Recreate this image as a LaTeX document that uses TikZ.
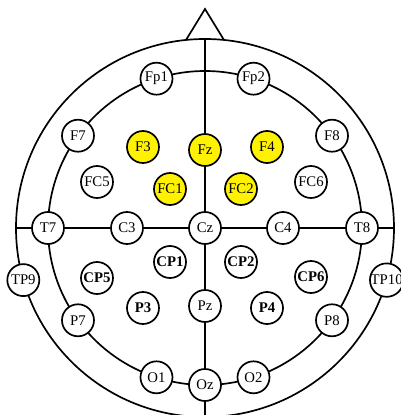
\documentclass[tikz,border=0pt]{standalone}
\usepackage{fontspec}
\setmainfont{Liberation Serif}
\usepackage{tikz}

\begin{document}
\begin{tikzpicture}[x=0.025cm,y=0.025cm,line width=1.2pt,
    elec/.style={circle,draw,fill=white,inner sep=0pt,minimum size=0.8cm,font=\fontsize{10.5}{12}\selectfont},
    elecon/.style={elec,fill=yellow},
    elecb/.style={elec,font=\fontsize{10.5}{12}\selectfont\bfseries}]
  \useasboundingbox (-205,-187) rectangle (196,228);
  % head, nose and ring
  \draw (0,0) circle (189);
  \draw (0,0) circle (157);
  \draw (-19,188) -- (0,219) -- (19,188);
  \coordinate (nose) at (0,189);
  \coordinate (back) at (0,-190);
  \coordinate (left) at (-189,0);
  \coordinate (right) at (189,0);
  % electrodes on the rings
  \node[elec] (Fp1) at (108:157) {Fp1};
  \node[elec] (Fp2) at (72:157) {Fp2};
  \node[elec] (F7) at (144:157) {F7};
  \node[elec] (F8) at (36:157) {F8};
  \node[elec] (T7) at (180:157) {T7};
  \node[elec] (T8) at (0:157) {T8};
  \node[elec] (P7) at (216:157) {P7};
  \node[elec] (P8) at (-36:157) {P8};
  \node[elec] (O1) at (252:157) {O1};
  \node[elec] (O2) at (-72:157) {O2};
  \node[elec] (Oz) at (270:157) {Oz};
  \node[elec] (TP9) at (196:189) {TP9};
  \node[elec] (TP10) at (-16:189) {TP10};
  % inner electrodes
  \node[elecon] (F3) at (-62,81) {F3};
  \node[elecon] (Fz) at (0,78) {Fz};
  \node[elecon] (F4) at (62,81) {F4};
  \node[elec] (FC5) at (-108,46) {FC5};
  \node[elecon] (FC1) at (-35,39) {FC1};
  \node[elecon] (FC2) at (36,39) {FC2};
  \node[elec] (FC6) at (106,46) {FC6};
  \node[elec] (C3) at (-78,0) {C3};
  \node[elec] (Cz) at (0,0) {Cz};
  \node[elec] (C4) at (78,0) {C4};
  \node[elecb] (CP1) at (-35,-34) {CP1};
  \node[elecb] (CP2) at (36,-34) {CP2};
  \node[elecb] (CP5) at (-108,-50) {CP5};
  \node[elecb] (CP6) at (106,-49) {CP6};
  \node[elecb] (P3) at (-62,-80) {P3};
  \node[elec] (Pz) at (0,-78) {Pz};
  \node[elecb] (P4) at (62,-80) {P4};
  % midlines
  \draw (nose) -- (Fz) -- (Cz) -- (Pz) -- (Oz) -- (back);
  \draw (left) -- (T7) -- (C3) -- (Cz) -- (C4) -- (T8) -- (right);
\end{tikzpicture}
\end{document}
